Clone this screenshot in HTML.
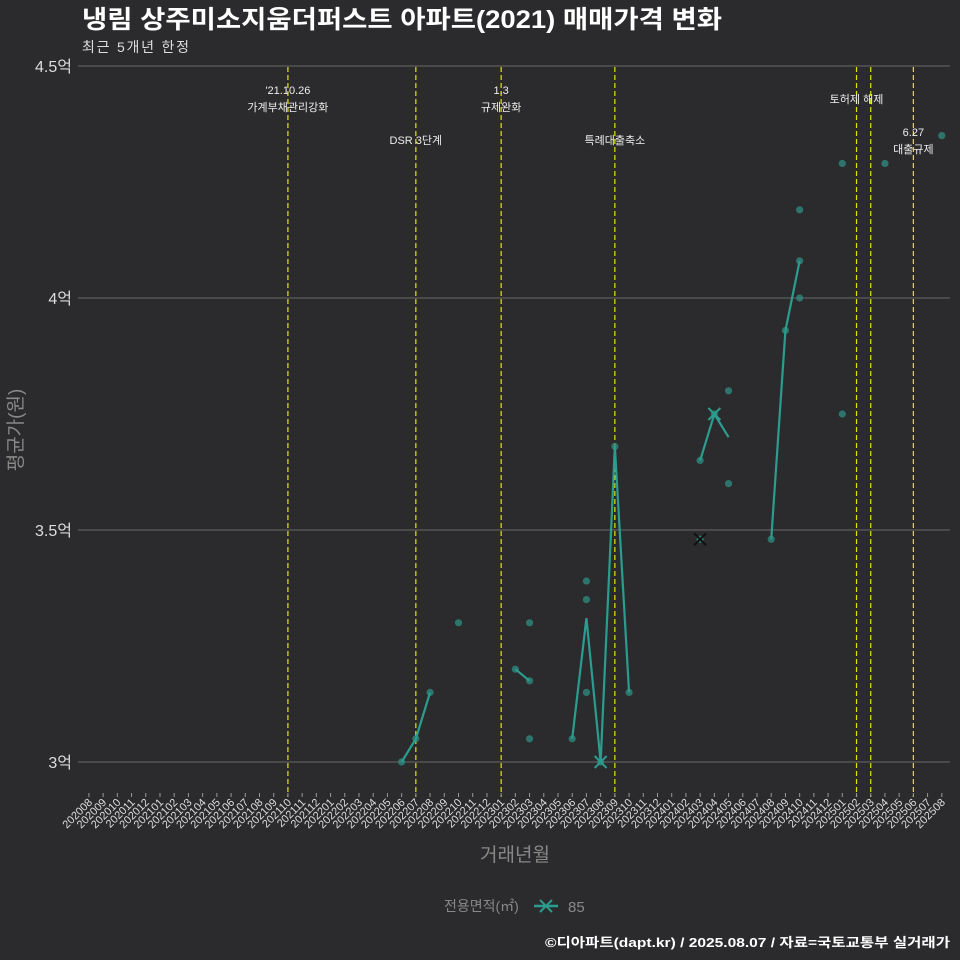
<!DOCTYPE html>
<html><head><meta charset="utf-8">
<style>
html,body{margin:0;background:#2b2b2d;overflow:hidden;width:960px;height:960px;}
svg{display:block;}
svg text{font-family:"Liberation Sans","Noto Sans CJK KR",sans-serif;}
</style></head>
<body>
<svg id="chart" width="960" height="960" xmlns="http://www.w3.org/2000/svg">
<rect width="960" height="960" fill="#2b2b2d"/>
<text x="82" y="28" font-size="25" font-weight="bold" fill="#ffffff" textLength="640" lengthAdjust="spacingAndGlyphs">냉림 상주미소지움더퍼스트 아파트(2021) 매매가격 변화</text>
<text x="82" y="52" font-size="14" fill="#dddddd" textLength="107">최근 5개년 한정</text>
<g id="grid"></g>
<g id="vlines"></g>
<g id="marks"></g>
<g id="xt"></g>
<text x="0" y="0" transform="translate(22,430) rotate(-90)" text-anchor="middle" font-size="19" fill="#888">평균가(원)</text>
<text x="515" y="861" text-anchor="middle" font-size="19" fill="#888">거래년월</text>
<g>
<text x="444" y="911" font-size="14" fill="#888">전용면적(㎡)</text>
<line x1="534" y1="906" x2="558" y2="906" stroke="#2a9d8f" stroke-width="2.5"/>
<path d="M540,900 L552,912 M552,900 L540,912" stroke="#2a9d8f" stroke-width="2"/>
<text x="568" y="912" font-size="15" fill="#888">85</text>
</g>
<text x="950" y="947" text-anchor="end" font-size="13" font-weight="bold" fill="#ffffff" textLength="405" lengthAdjust="spacingAndGlyphs">©디아파트(dapt.kr) / 2025.08.07 / 자료=국토교통부 실거래가</text>
</svg>
<script>
const months=[];for(let y=2020,m=8;months.length<61;){months.push(''+y+(m<10?'0':'')+m);m++;if(m>12){m=1;y++;}}
const yTicks=[3,3.5,4,4.5];
const yLabels=['3억','3.5억','4억','4.5억'];
const pointMonths=['202206','202207','202208','202210','202302','202303','202303','202303','202306','202307','202307','202307','202308','202309','202310','202403','202403','202404','202405','202405','202408','202409','202410','202410','202410','202501','202501','202504','202508'];
const pointValues=[3.0,3.05,3.15,3.30,3.20,3.30,3.05,3.175,3.05,3.39,3.35,3.15,3.0,3.68,3.15,3.48,3.65,3.75,3.80,3.60,3.48,3.93,4.19,4.08,4.00,4.29,3.75,4.29,4.35];
const lineMonths=[['202206','202207','202208'],['202302','202303'],['202306','202307','202308','202309','202310'],['202403','202404','202405'],['202408','202409','202410']];
const lineValues=[[3.0,3.05,3.15],[3.20,3.175],[3.05,3.31,3.0,3.68,3.15],[3.65,3.75,3.70],[3.48,3.93,4.08]];
const crossMonths=['202308','202403','202404'];
const crossValues=[3.0,3.48,3.75];
const eventMonths=['202110','202207','202301','202309','202502','202503','202506'];
const eventLabels=[["'21.10.26","가계부채관리강화"],["DSR 3단계"],["1.3","규제완화"],["특례대출축소"],["토허제 해제"],[],["6.27","대출규제"]];
const eventLabelY=[94,144,94,144,103,0,136];
const X=m=>88.9+months.indexOf(m)*14.215;
const Y=v=>762-(v-3)*464;
const NS='http://www.w3.org/2000/svg';
function mk(p,t,a){const e=document.createElementNS(NS,t);for(const k in a)e.setAttribute(k,a[k]);p.appendChild(e);return e;}
const grid=document.getElementById('grid'),vl=document.getElementById('vlines'),mg=document.getElementById('marks'),xt=document.getElementById('xt');
yTicks.forEach((v,i)=>{
 const l=mk(grid,'line',{x1:78,x2:950,y1:Y(v),y2:Y(v),stroke:'#5e5e5e','stroke-width':1.2});
 
 
 const t=mk(grid,'text',{x:72,y:Y(v)+6,'text-anchor':'end','font-size':16,fill:'#dddddd'});t.textContent=yLabels[i];
 
 
});
months.forEach(m=>{
 const x=X(m);
 mk(xt,'line',{x1:x,x2:x,y1:793,y2:797,stroke:'#999','stroke-width':1});
 const t=mk(xt,'text',{x:0,y:0,transform:`translate(${x+4},${803}) rotate(-45)`,'text-anchor':'end','font-size':11,fill:'#dddddd'});t.textContent=m;
 
 
});
eventMonths.forEach((m,i)=>{
 const x=X(m);
 const l=mk(vl,'line',{x1:x,x2:x,y1:67,y2:797,stroke:'#e6e600','stroke-width':1.2,'stroke-dasharray':'5,3'});
 
 
 eventLabels[i].forEach((s,j)=>{
  const t=mk(vl,'text',{x:x,y:eventLabelY[i]+j*17,'text-anchor':'middle','font-size':11,fill:'#eeeeee'});t.textContent=s;
  
  
 });
});
pointMonths.forEach((m,i)=>{
 const c=mk(mg,'circle',{cx:X(m),cy:Y(pointValues[i]),r:3.6,fill:'#2f8f82','fill-opacity':0.75});
 
 
});
lineMonths.forEach((seg,s)=>{
 const p=mk(mg,'polyline',{points:seg.map((m,i)=>X(m)+','+Y(lineValues[s][i])).join(' '),fill:'none',stroke:'#2a9d8f','stroke-width':2.2});
 
 
});
crossMonths.forEach((m,i)=>{
 const x=X(m),y=Y(crossValues[i]);
 const p=mk(mg,'path',{d:`M${x-6},${y-6}L${x+6},${y+6}M${x+6},${y-6}L${x-6},${y+6}`,stroke:i==1?'#111':'#2a9d8f','stroke-width':2});
 
 
});
</script>
</body></html>
